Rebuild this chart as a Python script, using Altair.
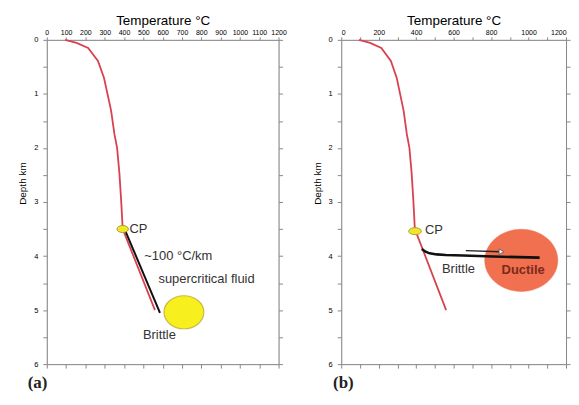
import altair as alt
import pandas as pd

# ---- data ----
geo_T = [95, 154, 214, 265, 296, 333, 350, 364, 376, 385, 393, 560]
geo_D = [0.0, 0.055, 0.15, 0.39, 0.70, 1.31, 1.74, 2.0, 2.47, 2.97, 3.5, 5.0]

a_black_T = [405, 586]
a_black_D = [3.52, 5.05]

b_black_T = [430, 450, 472, 510, 558, 650, 813, 1059]
b_black_D = [3.87, 3.92, 3.95, 3.97, 3.98, 3.99, 4.01, 4.03]

b_arrow_T = [665, 850]
b_arrow_D = [3.90, 3.92]
b_head_T = [855]
b_head_D = [3.92]

cp_a_T, cp_a_D = [393], [3.50]
cp_b_T, cp_b_D = [394], [3.54]
blob_a_T, blob_a_D = [710], [5.04]
blob_b_T, blob_b_D = [961], [4.08]

a_text = ["CP", "~100 °C/km", "supercritical fluid"]
a_text_T = [428, 505, 578]
a_text_D = [3.5, 4.0, 4.42]
a_brittle_T, a_brittle_D = [583], [5.47]

b_text = ["CP"]
b_text_T = [447]
b_text_D = [3.52]
b_brittle_T, b_brittle_D = [626], [4.24]
b_ductile_T, b_ductile_D = [971], [4.25]

x_ticks = list(range(0, 1201, 100))
y_ticks = [i * 0.5 for i in range(13)]

H = 326
FONT = "Liberation Sans"
ELLIPSE = lambda r: f"M-1,0A1,{r},0,1,0,1,0A1,{r},0,1,0,-1,0Z"


def df(T, D, **extra):
    d = {"T": T, "D": D}
    d.update(extra)
    return pd.DataFrame(d)


xs = alt.Scale(domain=[0, 1200], nice=False, zero=False)
ys = alt.Scale(domain=[0, 6], reverse=True, nice=False, zero=False)


def encs(flush):
    x_enc = alt.X("T:Q", scale=xs, axis=alt.Axis(
        orient="top", values=x_ticks, format="d", title="Temperature °C",
        labelFontSize=7, tickSize=3, labelPadding=1, titleFontSize=13.5,
        titlePadding=1, titleFontWeight="normal", grid=False, labelFlush=flush))
    y_enc = alt.Y("D:Q", scale=ys, axis=alt.Axis(
        orient="left", values=y_ticks, title="Depth km",
        labelExpr="datum.value % 1 == 0 ? format(datum.value, 'd') : ''",
        labelFontSize=7.5, tickSize=4, labelPadding=5, titleFontSize=10,
        titlePadding=6, titleFontWeight="normal", titleY=144, grid=False))
    return x_enc, y_enc


x_mir = alt.X("T:Q", scale=xs, axis=alt.Axis(
    orient="bottom", values=x_ticks, labels=False, title=None, tickSize=4, grid=False))
y_mir = alt.Y("D:Q", scale=ys, axis=alt.Axis(
    orient="right", values=y_ticks, labels=False, title=None, tickSize=4, grid=False))


class Panel:
    def __init__(self, flush):
        self.x, self.y = encs(flush)

    def line(self, d, color, w):
        return alt.Chart(d).mark_line(color=color, strokeWidth=w).encode(x=self.x, y=self.y)

    def blob(self, d, r, size, fill, stroke, sw):
        return alt.Chart(d).mark_point(shape=ELLIPSE(r), size=size, filled=True,
                                       fill=fill, stroke=stroke, strokeWidth=sw,
                                       opacity=1).encode(x=self.x, y=self.y)

    def head(self, d):
        return alt.Chart(d).mark_point(shape="triangle-right", size=30, filled=True,
                                       fill="#ffffff", stroke="#555555",
                                       strokeWidth=0.8, opacity=1).encode(x=self.x, y=self.y)

    def text(self, d, align="left", color="#333333", weight="normal", size=13):
        return alt.Chart(d).mark_text(align=align, baseline="middle", font=FONT,
                                      fontSize=size, color=color, fontWeight=weight
                                      ).encode(x=self.x, y=self.y, text="label:N")

    def build(self, layers, label, dx, width):
        main = alt.layer(*layers)
        mirror = alt.Chart(df(geo_T, geo_D)).mark_line(opacity=0).encode(x=x_mir, y=y_mir)
        return alt.layer(main, mirror).resolve_scale(x="independent", y="independent").properties(
            width=width, height=H,
            title=alt.TitleParams(text=label, orient="bottom", anchor="start",
                                  font="Liberation Serif", fontSize=17,
                                  fontWeight="bold", color="#222222", dx=dx, offset=7))


RED = "#d9414f"

A = Panel(False)
pa = A.build([
    A.line(df(geo_T, geo_D), RED, 1.8),
    A.line(df(a_black_T, a_black_D), "#111111", 2.0),
    A.blob(df(cp_a_T, cp_a_D), 0.62, 132, "#f2e62a", "#a89a2a", 1.0),
    A.blob(df(blob_a_T, blob_a_D), 0.83, 1600, "#f7ef1e", "#c9bb4a", 1.2),
    A.text(df(a_text_T, a_text_D, label=a_text)),
    A.text(df(a_brittle_T, a_brittle_D, label=["Brittle"]), align="center"),
], "(a)", 10, 233)

B = Panel(True)
pb = B.build([
    B.blob(df(blob_b_T, blob_b_D), 0.85, 5400, "#f07050", "#f07050", 0.5),
    B.line(df(geo_T, geo_D), RED, 1.8),
    B.line(df(b_black_T, b_black_D), "#111111", 2.6),
    B.line(df(b_arrow_T, b_arrow_D), "#222222", 1.4),
    B.head(df(b_head_T, b_head_D)),
    B.blob(df(cp_b_T, cp_b_D), 0.55, 160, "#f2e62a", "#a89a2a", 1.0),
    B.text(df(b_text_T, b_text_D, label=b_text)),
    B.text(df(b_brittle_T, b_brittle_D, label=["Brittle"]), align="center"),
    B.text(df(b_ductile_T, b_ductile_D, label=["Ductile"]), align="center",
           color="#7a2a1a", weight="bold"),
], "(b)", 21, 226)

chart = alt.hconcat(pa, pb, spacing=24).properties(
    padding={"left": 9, "top": 4, "right": 0, "bottom": 0}
).configure_view(stroke="#999999").configure_axis(
    domainColor="#999999", tickColor="#888888", labelColor="#444444",
    titleColor="#333333", labelFont=FONT, titleFont=FONT
).configure(background="white")

chart.save("out.html", embed_options={"renderer": "svg", "actions": False})
